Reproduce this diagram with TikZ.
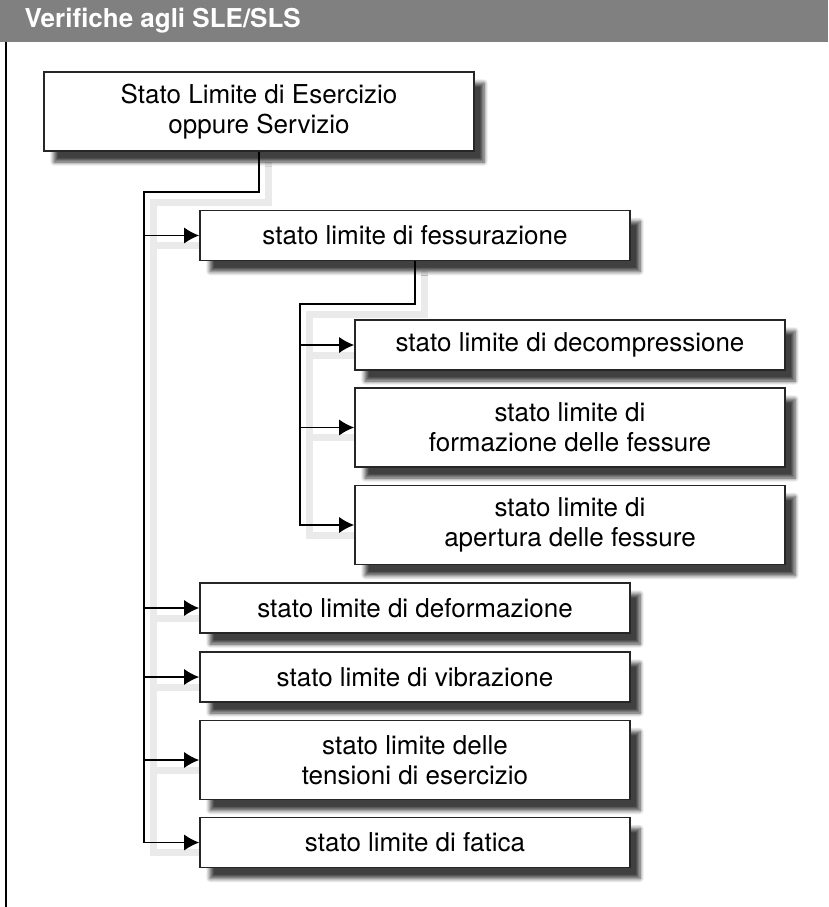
\documentclass[tikz,border=0pt]{standalone}
\usepackage{fontspec}
\setmainfont{TeX Gyre Heros}
\usepackage{tikz}
\usetikzlibrary{
  arrows.meta,%
  % blurred drop shadows under the boxes
  shadows.blur,%
  positioning,
  calc
}
\definecolor{hdrgray}{RGB}{128,128,128}
\definecolor{lnkshade}{RGB}{234,234,234}
\pgfdeclarelayer{bg}
\pgfsetlayers{bg,main}
\tikzset{font=\fontsize{26}{30}\selectfont}
\tikzset{box/.style={draw=black!85, line width=1.6pt, fill=white, align=center,
    minimum width=430pt, minimum height=50pt, inner sep=0pt,
    blur shadow={shadow xshift=10pt, shadow yshift=-11pt,
      shadow blur radius=4pt, shadow blur steps=6, shadow opacity=75}}}
\tikzset{tallbox/.style={box, minimum height=79pt}}
\tikzset{link/.style={line width=1.5pt, black,
    -{Latex[length=15pt,width=16pt]}}}
\tikzset{linkshadow/.style={line width=7pt, lnkshade,
    transform canvas={xshift=9pt, yshift=-10pt}}}

\begin{document}
\begin{tikzpicture}[x=1pt,y=1pt]
  \useasboundingbox (0,0) rectangle (828,-907);
  % header bar
  \fill[hdrgray] (0,0) rectangle (828,-42);
  \node[anchor=west, text=white, font=\fontsize{26}{30}\selectfont\bfseries]
    (title) at (21,-21) {Verifiche agli SLE/SLS};
  \draw[line width=2.5pt] (6,-42) -- (6,-907);

  % boxes
  \node[tallbox] (sle) at (259,-111.5) {Stato Limite di Esercizio\\oppure Servizio};
  \node[box] (fess) at (415,-235.5) {stato limite di fessurazione};
  \node[box] (decomp) at (570,-345) {stato limite di decompressione};
  \node[tallbox] (form) at (570,-427.5) {stato limite di\\formazione delle fessure};
  \node[tallbox] (apert) at (570,-525) {stato limite di\\apertura delle fessure};
  \node[box] (deform) at (415,-608) {stato limite di deformazione};
  \node[box] (vibr) at (415,-677) {stato limite di vibrazione};
  \node[tallbox] (tens) at (415,-760) {stato limite delle\\tensioni di esercizio};
  \node[box] (fat) at (415,-842.5) {stato limite di fatica};

  \coordinate (trunk) at (144,-192);
  \coordinate (subtrunk) at (300,-304);

  % shadows of the connectors
  \begin{pgfonlayer}{bg}
    \draw[linkshadow] (sle.south) |- (trunk) |- (fat.west);
    \foreach \n in {fess,deform,vibr,tens}
      \draw[linkshadow] (trunk |- \n.west) -- (\n.west);
    \draw[linkshadow] (fess.south) |- (subtrunk) |- (apert.west);
    \foreach \n in {decomp,form}
      \draw[linkshadow] (subtrunk |- \n.west) -- (\n.west);
  \end{pgfonlayer}

  % connectors
  \draw[link] (sle.south) |- (trunk) |- (fat.west);
  \foreach \n in {fess,deform,vibr,tens}
    \draw[link] (trunk |- \n.west) -- (\n.west);
  \draw[link] (fess.south) |- (subtrunk) |- (apert.west);
  \foreach \n in {decomp,form}
    \draw[link] (subtrunk |- \n.west) -- (\n.west);
\end{tikzpicture}
\end{document}
